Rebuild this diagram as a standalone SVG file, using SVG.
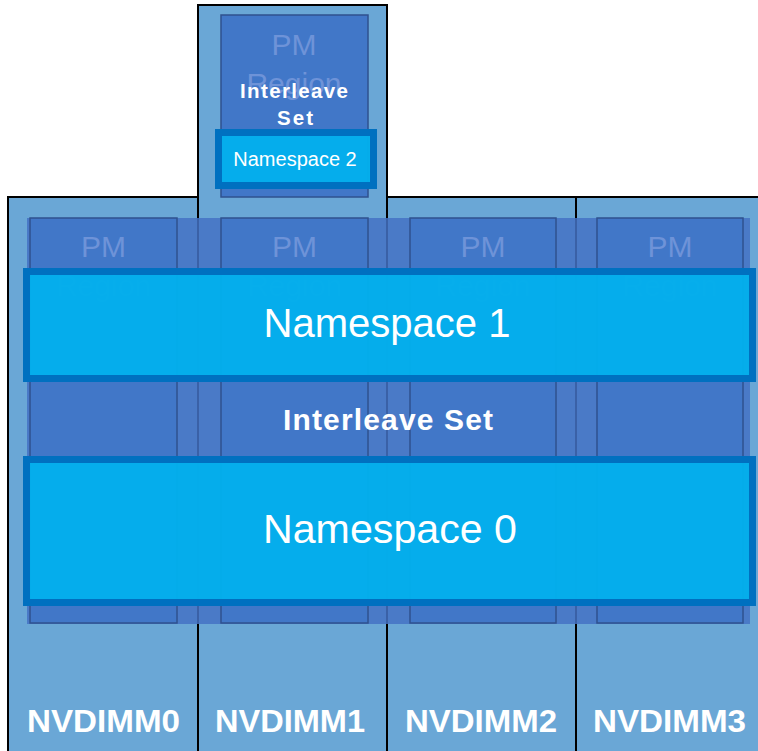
<svg xmlns="http://www.w3.org/2000/svg" width="758" height="751" viewBox="0 0 758 751">
<style>
.dimm{fill:#6AA7D6;stroke:#000;stroke-width:2}
.pm{fill:#4177C8;stroke:#2F528F;stroke-width:1.5}
.pmt{font-family:"Liberation Sans",Arial,sans-serif;font-size:30px;fill:#6E93D8;text-anchor:middle}
.ovl{fill:#4472C4;fill-opacity:0.85}
.ns{fill:#03AEEC;fill-opacity:0.97;stroke:#0070C0;stroke-width:7}
.nst{font-family:"Liberation Sans",Arial,sans-serif;fill:#fff;text-anchor:middle}
.bold{font-family:"Liberation Sans",Arial,sans-serif;font-weight:bold;fill:#fff;text-anchor:middle}
</style>
<rect width="758" height="751" fill="#fff"/>
<g id="nvdimm0"><rect class="dimm" x="8" y="197" width="190" height="560"/></g>
<g id="nvdimm1"><rect class="dimm" x="198" y="5" width="189" height="752"/></g>
<g id="nvdimm2"><rect class="dimm" x="387" y="197" width="189" height="560"/></g>
<g id="nvdimm3"><rect class="dimm" x="576" y="197" width="190" height="560"/></g>
<g id="pm-region-top">
<rect class="pm" x="221" y="15" width="147" height="182"/>
<text class="pmt" x="294" y="55">PM</text>
<text class="pmt" x="294" y="94">Region</text>
</g>
<g id="interleave-set">
<rect class="ovl" x="27" y="218" width="723" height="406"/>
</g>
<g id="pm-region0"><rect class="pm" x="30" y="218" width="147" height="405"/><text class="pmt" x="103.5" y="257">PM</text><text class="pmt" x="103.5" y="296">Region</text></g>
<g id="pm-region1"><rect class="pm" x="221" y="218" width="147" height="405"/><text class="pmt" x="294.5" y="257">PM</text><text class="pmt" x="294.5" y="296">Region</text></g>
<g id="pm-region2"><rect class="pm" x="410" y="218" width="146" height="405"/><text class="pmt" x="483" y="257">PM</text><text class="pmt" x="483" y="296">Region</text></g>
<g id="pm-region3"><rect class="pm" x="597" y="218" width="146" height="405"/><text class="pmt" x="670" y="257">PM</text><text class="pmt" x="670" y="296">Region</text></g>
<g id="interleave-set-top-label">
<text class="bold" font-size="20.5" x="294" y="98" textLength="108" lengthAdjust="spacing">Interleave</text>
<text class="bold" font-size="20.5" x="295" y="125" textLength="36" lengthAdjust="spacing">Set</text>
</g>
<g id="namespace2">
<rect class="ns" x="218.5" y="132.5" width="155" height="53"/>
<text class="nst" font-size="20" x="295" y="166">Namespace 2</text>
</g>
<g id="namespace1">
<rect class="ns" x="26.5" y="271.5" width="726" height="107"/>
<text class="nst" font-size="41" x="387" y="337" textLength="247" lengthAdjust="spacingAndGlyphs">Namespace 1</text>
</g>
<g id="interleave-set-label">
<text class="bold" font-size="30" x="388" y="430" textLength="210" lengthAdjust="spacing">Interleave Set</text>
</g>
<g id="namespace0">
<rect class="ns" x="26.5" y="459.5" width="726" height="143"/>
<text class="nst" font-size="41" x="390" y="543" textLength="254" lengthAdjust="spacingAndGlyphs">Namespace 0</text>
</g>
<g id="labels">
<text class="bold" font-size="32" x="103.5" y="732" textLength="153" lengthAdjust="spacingAndGlyphs">NVDIMM0</text>
<text class="bold" font-size="32" x="290" y="732" textLength="150" lengthAdjust="spacingAndGlyphs">NVDIMM1</text>
<text class="bold" font-size="32" x="481" y="732" textLength="152" lengthAdjust="spacingAndGlyphs">NVDIMM2</text>
<text class="bold" font-size="32" x="669.5" y="732" textLength="153" lengthAdjust="spacingAndGlyphs">NVDIMM3</text>
</g>
</svg>
